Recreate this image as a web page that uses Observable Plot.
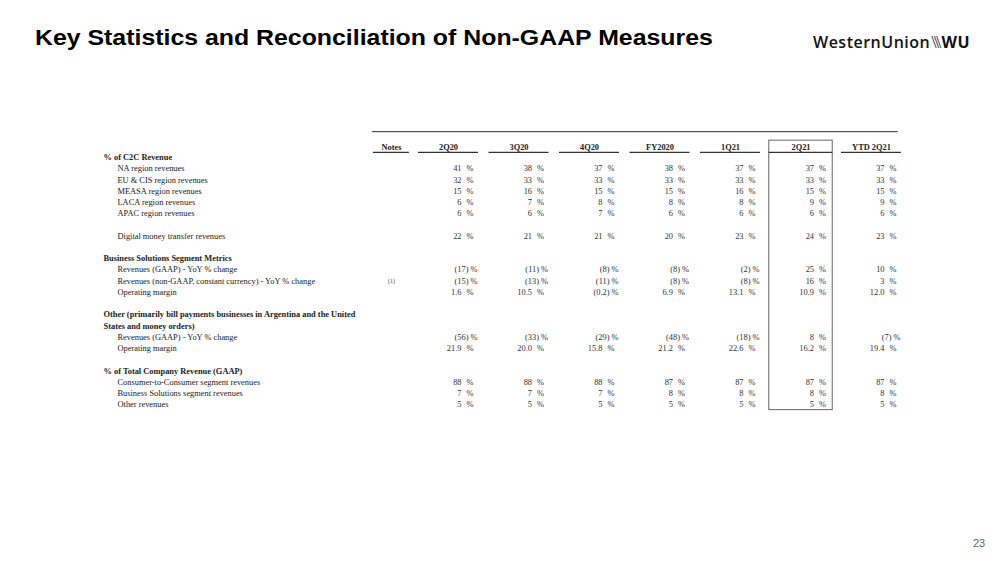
<!DOCTYPE html>
<html>
<head>
<meta charset="utf-8">
<script src="https://cdn.jsdelivr.net/npm/d3@7"></script>
<script src="https://cdn.jsdelivr.net/npm/@observablehq/plot@0.6"></script>
<style>
  html, body { margin: 0; padding: 0; background: #fff; }
  #page { position: relative; width: 1000px; height: 562px; overflow: hidden; }
  #title { position: absolute; left: 35px; top: 25px; font: bold 22px "Liberation Sans", Arial, sans-serif; color: #000; white-space: nowrap; transform: scaleX(1.13); transform-origin: 0 0; }
  #logo { position: absolute; left: 813px; top: 31px; font: 600 16px "Open Sans", sans-serif; color: #111; letter-spacing: 0.5px; white-space: nowrap; }
  #logo .sl { font-weight: 300; letter-spacing: -3px; margin: 0 3px 0 1px; }
  #logo .wu { font-weight: 700; }
  #pnum { position: absolute; left: 973px; top: 537px; font: 11px "Liberation Sans", Arial, sans-serif; color: #666; }
  #chart { position: absolute; left: 0; top: 0; opacity: 0.999; }
</style>
</head>
<body>
<div id="page">
  <div id="chart"></div>
  <div id="title">Key Statistics and Reconciliation of Non-GAAP Measures</div>
  <div id="logo">WesternUnion<span class="sl">\\\</span><span class="wu">WU</span></div>
  <div id="pnum">23</div>
</div>
<script>
// ---- data ----
const columns = ["2Q20", "3Q20", "4Q20", "FY2020", "1Q21", "2Q21", "YTD 2Q21"];
const highlightedColumn = "2Q21";

const naRegion      = [41, 38, 37, 38, 37, 37, 37];
const euCisRegion   = [32, 33, 33, 33, 33, 33, 33];
const measaRegion   = [15, 16, 15, 15, 16, 15, 15];
const lacaRegion    = [6, 7, 8, 8, 8, 9, 9];
const apacRegion    = [6, 6, 7, 6, 6, 6, 6];
const digitalMT     = [22, 21, 21, 20, 23, 24, 23];
const bsRevGaap     = [-17, -11, -8, -8, -2, 25, 10];
const bsRevConstCur = [-15, -13, -11, -8, -8, 16, 3];
const bsOpMargin    = [1.6, 10.5, -0.2, 6.9, 13.1, 10.9, 12.0];
const otherRevGaap  = [-56, -33, -29, -48, -18, 8, -7];
const otherOpMargin = [21.9, 20.0, 15.8, 21.2, 22.6, 16.2, 19.4];
const c2cShare      = [88, 88, 88, 87, 87, 87, 87];
const bsShare       = [7, 7, 7, 8, 8, 8, 8];
const otherShare    = [5, 5, 5, 5, 5, 5, 5];

// rows: label, row index, bold header or indented item, values, decimals, note
const rows = [
  {row: 0,  label: "% of C2C Revenue", bold: true},
  {row: 1,  label: "NA region revenues", values: naRegion, dec: 0},
  {row: 2,  label: "EU & CIS region revenues", values: euCisRegion, dec: 0},
  {row: 3,  label: "MEASA region revenues", values: measaRegion, dec: 0},
  {row: 4,  label: "LACA region revenues", values: lacaRegion, dec: 0},
  {row: 5,  label: "APAC region revenues", values: apacRegion, dec: 0},
  {row: 7,  label: "Digital money transfer revenues", values: digitalMT, dec: 0},
  {row: 9,  label: "Business Solutions Segment Metrics", bold: true},
  {row: 10, label: "Revenues (GAAP) - YoY % change", values: bsRevGaap, dec: 0},
  {row: 11, label: "Revenues (non-GAAP, constant currency) - YoY % change", values: bsRevConstCur, dec: 0, note: "(1)"},
  {row: 12, label: "Operating margin", values: bsOpMargin, dec: 1},
  {row: 14, label: "Other (primarily bill payments businesses in Argentina and the United", bold: true},
  {row: 15, label: "States and money orders)", bold: true},
  {row: 16, label: "Revenues (GAAP) - YoY % change", values: otherRevGaap, dec: 0},
  {row: 17, label: "Operating margin", values: otherOpMargin, dec: 1},
  {row: 19, label: "% of Total Company Revenue (GAAP)", bold: true},
  {row: 20, label: "Consumer-to-Consumer segment revenues", values: c2cShare, dec: 0},
  {row: 21, label: "Business Solutions segment revenues", values: bsShare, dec: 0},
  {row: 22, label: "Other revenues", values: otherShare, dec: 0}
];

// ---- derived table ----
const cells = rows.filter(r => r.values).flatMap(r =>
  r.values.map((v, i) => ({row: r.row, col: i, v, dec: r.dec}))
);
const fmt = d => {
  const s = Math.abs(d.v).toFixed(d.dec);
  return d.v < 0 ? `(${s})` : s;
};
const colIdx = columns.map((c, i) => ({name: c, i}));
const notesCol = -0.81;
const headerRow = -0.9;
const hl = columns.indexOf(highlightedColumn);
const lastRow = d3.max(rows, r => r.row);

const ink = "#222";

const chart = Plot.plot({
  width: 1000,
  height: 562,
  marginLeft: 103,
  marginRight: 0,
  marginTop: 0,
  marginBottom: 0,
  style: {fontFamily: "'Liberation Serif', 'Times New Roman', serif", fontSize: "8.4px", background: "transparent"},
  x: {type: "linear", domain: [0, columns.length - 1], range: [448, 871], axis: null},
  y: {type: "linear", domain: [0, lastRow], range: [157, 404], axis: null},
  marks: [
    // top rule
    Plot.ruleY([-2.3], {x1: -1.08, x2: columns.length - 1 + 0.38, stroke: "#333", strokeWidth: 1}),
    // highlighted column box
    Plot.rect([hl], {x1: d => d - 0.45, x2: d => d + 0.45, y1: -1.5, y2: lastRow + 0.5, fill: "none", stroke: "#666", strokeWidth: 1}),
    // header underlines
    Plot.ruleY(colIdx, {y: -0.45, x1: d => d.i - (d.i === hl ? 0.45 : 0.425), x2: d => d.i + (d.i === hl ? 0.45 : 0.425), stroke: "#333", strokeWidth: 1.2}),
    Plot.ruleY([notesCol], {y: -0.45, x1: d => d - 0.255, x2: d => d + 0.255, stroke: "#333", strokeWidth: 1.2}),
    // headers
    Plot.text(colIdx, {x: "i", y: headerRow, text: "name", fontWeight: "bold", fill: ink}),
    Plot.text(["Notes"], {x: notesCol, y: headerRow, text: d => d, fontWeight: "bold", fill: ink}),
    // row labels
    Plot.text(rows.filter(r => r.bold), {y: "row", text: "label", frameAnchor: "left", textAnchor: "start", fontWeight: "bold", fill: ink}),
    Plot.text(rows.filter(r => !r.bold), {y: "row", text: "label", frameAnchor: "left", textAnchor: "start", dx: 14, fill: ink}),
    // notes
    Plot.text(rows.filter(r => r.note), {x: () => notesCol, y: "row", text: "note", fontSize: 6, fill: "#444"}),
    // values
    Plot.text(cells.filter(d => d.v >= 0), {x: "col", y: "row", text: fmt, textAnchor: "end", dx: 13, fill: "#333"}),
    Plot.text(cells.filter(d => d.v < 0), {x: "col", y: "row", text: fmt, textAnchor: "end", dx: 20, fill: "#333"}),
    Plot.text(cells.filter(d => d.v >= 0), {x: "col", y: "row", text: () => "%", textAnchor: "start", dx: 18, fill: "#333"}),
    Plot.text(cells.filter(d => d.v < 0), {x: "col", y: "row", text: () => "%", textAnchor: "start", dx: 22, fill: "#333"})
  ]
});
document.getElementById("chart").appendChild(chart);
</script>
</body>
</html>
